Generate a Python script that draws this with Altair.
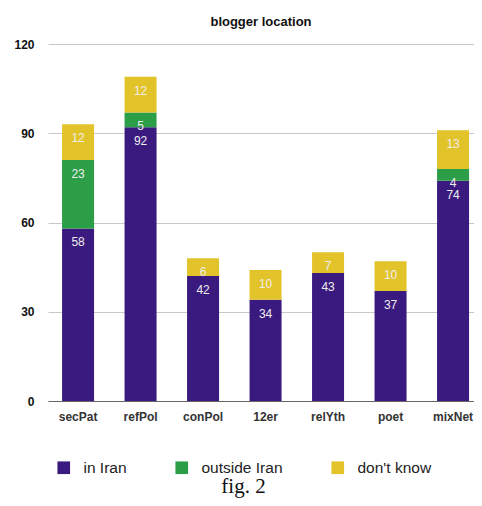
import altair as alt
import pandas as pd

categories = ["secPat", "refPol", "conPol", "12er", "relYth", "poet", "mixNet"]
in_iran = [58, 92, 42, 34, 43, 37, 74]
outside_iran = [23, 5, 0, 0, 0, 0, 4]
dont_know = [12, 12, 6, 10, 7, 10, 13]
series = ["in Iran", "outside Iran", "don't know"]
colors = ["#3a1a7e", "#2b9e47", "#e3c32a"]

rows = []
for i, c in enumerate(categories):
    for k, (s, vals) in enumerate(zip(series, [in_iran, outside_iran, dont_know])):
        rows.append({"cat": c, "series": s, "value": vals[i], "order": k})
df = pd.DataFrame(rows)

FONT = "Liberation Sans"

base = alt.Chart(df).transform_filter("datum.value > 0").transform_stack(
    stack="value", groupby=["cat"], as_=["v0", "v1"],
    sort=[alt.SortField("order", order="ascending")]
)

x = alt.X("cat:N", sort=categories, title="fig. 2",
          scale=alt.Scale(paddingInner=0.488, paddingOuter=0.152, align=0.74),
          axis=alt.Axis(labelAngle=0, ticks=False, domainColor="#666666",
                        labelFont=FONT, labelFontSize=12, labelFontWeight="bold",
                        labelColor="#333333", labelPadding=10,
                        titleFont="Liberation Serif", titleFontSize=21,
                        titleFontWeight="normal", titleColor="#111111",
                        titleBaseline="middle", titleX=195, titleY=85))

bars = base.mark_bar().encode(
    x=x,
    y=alt.Y("v0:Q", scale=alt.Scale(domain=[0, 120]),
            axis=alt.Axis(values=[0, 30, 60, 90, 120], title=None, domain=False,
                          ticks=False, gridColor="#c8c8c8", labelFont=FONT,
                          labelFontSize=12, labelFontWeight="bold",
                          labelColor="#111111", labelPadding=14)),
    y2="v1:Q",
    color=alt.Color("series:N", sort=series,
                    scale=alt.Scale(domain=series, range=colors),
                    legend=alt.Legend(title=None, orient="none", direction="horizontal",
                                      legendX=8, legendY=416, symbolType="square",
                                      symbolSize=160, symbolStrokeWidth=0,
                                      symbolOpacity=1,
                                      labelFont=FONT, labelFontSize=15.5,
                                      labelColor="#222222", labelOffset=12,
                                      columnPadding=47, gridAlign="none")),
)

labels = base.mark_text(baseline="middle", dy=14, font=FONT, fontSize=12,
                        color="#eeeeee").encode(
    x=alt.X("cat:N", sort=categories),
    y="v1:Q",
    text="value:Q",
)

chart = alt.layer(bars, labels).properties(
    width=426, height=357,
    title=alt.TitleParams("blogger location", font=FONT, fontSize=13,
                          fontWeight="bold", color="#111111", anchor="middle",
                          offset=9),
    autosize=alt.AutoSizeParams(type="none"),
    padding={"left": 40, "top": 36, "right": 0, "bottom": 97},
).configure_view(stroke=None)

chart.save("out.html", embed_options={"renderer": "svg", "actions": False})
